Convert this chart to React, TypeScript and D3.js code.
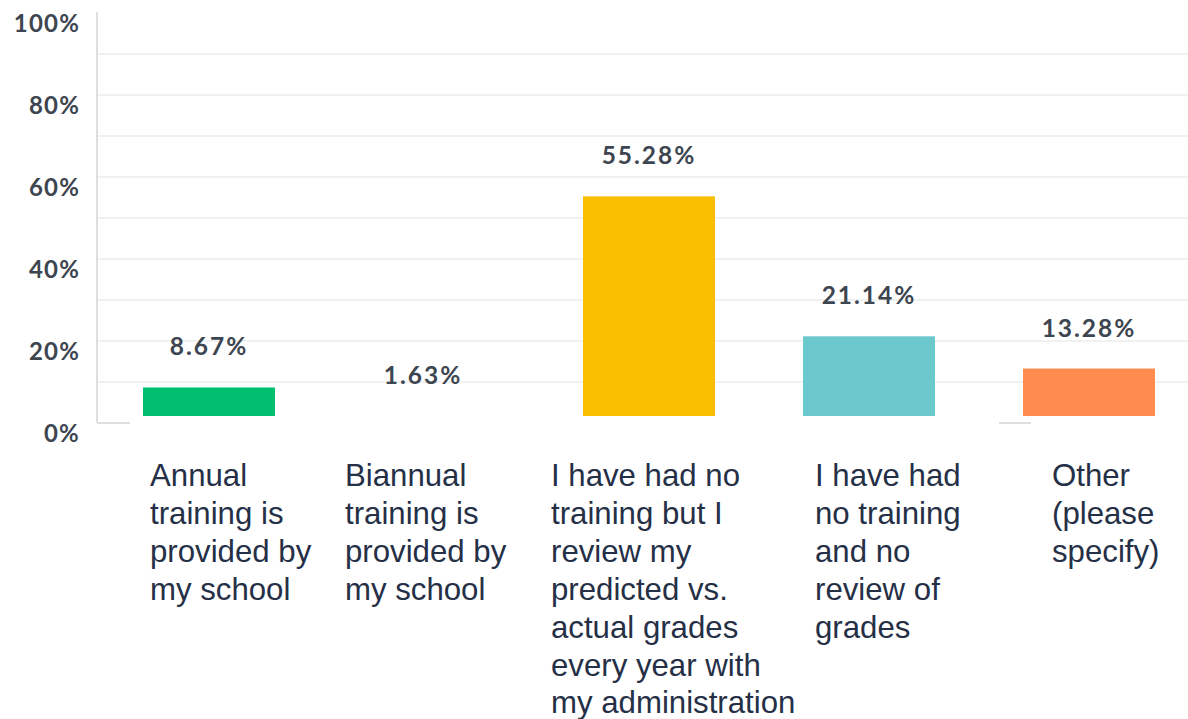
import { useEffect, useRef } from 'react';
import * as d3 from 'd3';

const categories = ['annual', 'biannual', 'reviewOnly', 'none', 'other'];
const values = [8.67, 1.63, 55.28, 21.14, 13.28];
const colors = ['#00bf6f', '#507cb6', '#f9be00', '#6bc8cd', '#ff8b4f'];
const labelLines = [
    ['Annual', 'training is', 'provided by', 'my school'],
    ['Biannual', 'training is', 'provided by', 'my school'],
    ['I have had no', 'training but I', 'review my', 'predicted vs.', 'actual grades', 'every year with', 'my administration'],
    ['I have had', 'no training', 'and no', 'review of', 'grades'],
    ['Other', '(please', 'specify)'],
];
const yTicks = [0, 20, 40, 60, 80, 100];
const gridTicks = [10, 20, 30, 40, 50, 60, 70, 80, 90];

const App = () => {
    const ref = useRef<SVGSVGElement>(null);

    useEffect(() => {
        const width = 1188;
        const height = 719;
        const axisX = 97;

        const svg = d3.select(ref.current);
        svg.selectAll('*').remove();

        const x = d3.scaleBand<string>()
            .domain(categories)
            .range([99, 1199])
            .paddingInner(0.4)
            .paddingOuter(0.2);

        const y = d3.scaleLinear()
            .domain([0, 100])
            .range([423, 13]);

        // grid
        svg.append('g')
            .selectAll('line')
            .data(gridTicks)
            .join('line')
            .attr('x1', axisX)
            .attr('x2', width)
            .attr('y1', d => y(d))
            .attr('y2', d => y(d))
            .attr('stroke', '#ebeced')
            .attr('stroke-width', 1.5);

        // axis line
        svg.append('line')
            .attr('x1', axisX).attr('x2', axisX)
            .attr('y1', 12).attr('y2', y(0))
            .attr('stroke', '#d3d5d7')
            .attr('stroke-width', 1.5);

        // baseline, mostly hidden behind the label area
        [[axisX, 130], [999, 1031]].forEach(([a, b]) => {
            svg.append('line')
                .attr('x1', a).attr('x2', b)
                .attr('y1', y(0)).attr('y2', y(0))
                .attr('stroke', '#d3d5d7')
                .attr('stroke-width', 1.5);
        });

        // tick labels
        svg.append('g')
            .selectAll('text')
            .data(yTicks)
            .join('text')
            .attr('x', 80)
            .attr('y', d => y(d) + 18.5)
            .attr('text-anchor', 'end')
            .attr('font-family', 'Lato, sans-serif')
            .attr('font-weight', 700)
            .attr('font-size', 24)
            .attr('letter-spacing', 1.2)
            .attr('fill', '#3d4550')
            .text(d => `${d}%`);

        // bars (bottom edge hidden by the label area)
        svg.append('clipPath')
            .attr('id', 'barclip')
            .append('rect')
            .attr('x', 0).attr('y', 0)
            .attr('width', width).attr('height', y(0) - 7);

        svg.append('g')
            .attr('clip-path', 'url(#barclip)')
            .selectAll('rect')
            .data(values)
            .join('rect')
            .attr('x', (d, i) => x(categories[i])!)
            .attr('y', d => y(d))
            .attr('width', x.bandwidth())
            .attr('height', d => y(0) - y(d))
            .attr('fill', (d, i) => colors[i]);

        // value labels
        svg.append('g')
            .selectAll('text')
            .data(values)
            .join('text')
            .attr('x', (d, i) => x(categories[i])! + x.bandwidth() / 2 - (i === 1 ? 6 : 0))
            .attr('y', d => y(d) - 32)
            .attr('text-anchor', 'middle')
            .attr('font-family', 'Lato, sans-serif')
            .attr('font-weight', 700)
            .attr('font-size', 24.5)
            .attr('letter-spacing', 2)
            .attr('fill', '#3d4550')
            .text(d => `${d.toFixed(2)}%`);

        // category labels (placed by hand in the source, so offsets from the band)
        const shift = [7, -18, -32, 12, 29];
        const lineH = 37.9;
        svg.append('g')
            .selectAll('text')
            .data(labelLines)
            .join('text')
            .attr('x', (d, i) => x(categories[i])! + shift[i])
            .attr('y', 486)
            .attr('font-family', 'Liberation Sans, Arial, sans-serif')
            .attr('font-size', 31.2)
            .attr('fill', '#253047')
            .selectAll('tspan')
            .data(d => d)
            .join('tspan')
            .attr('x', function () {
                return (this.parentNode as SVGTextElement).getAttribute('x');
            })
            .attr('dy', (d, j) => (j === 0 ? 0 : lineH))
            .text(d => d);

        svg.attr('width', width).attr('height', height);
    }, []);

    return (
        <div style={{ position: 'absolute', left: 0, top: 0, background: '#fff' }}>
            <svg ref={ref} width={1188} height={719} style={{ display: 'block' }} />
        </div>
    );
};

export default App;
